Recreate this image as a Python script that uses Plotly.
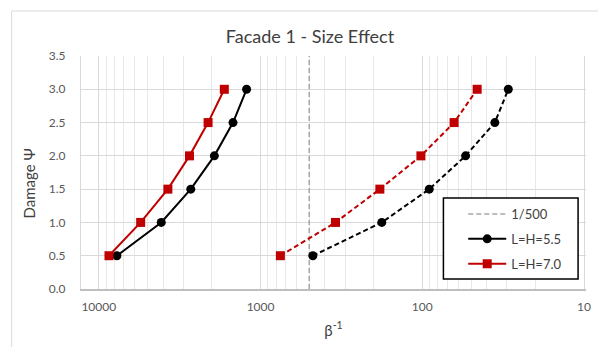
import plotly.graph_objects as go

# Damage levels (y) and inverse reliability values (x) for each curve
damage = [0.5, 1.0, 1.5, 2.0, 2.5, 3.0]
beta_inv_55_solid = [7730, 4110, 2700, 1930, 1480, 1220]
beta_inv_70_solid = [8650, 5510, 3740, 2750, 2110, 1675]
beta_inv_55_dashed = [475, 178, 90.6, 54, 35.6, 29.4]
beta_inv_70_dashed = [754, 344, 183, 102, 63.6, 45.8]
limit_value = 500
limit_y = [0, 3.5]

x_tick_vals = [10, 100, 1000, 10000]
x_tick_text = ["10", "100", "1000", "10000"]
x_minor_vals = [m * 10 ** e for e in (1, 2, 3) for m in range(2, 10)]

BLACK = "#000000"
RED = "#c00000"
GRAY = "#a6a6a6"
FONT = "Lato"

fig = go.Figure()

fig.add_trace(go.Scatter(
    x=[limit_value, limit_value], y=limit_y, mode="lines", name="1/500",
    line=dict(color=GRAY, width=1.5, dash="5px,3px"), legendgroup="a",
))
fig.add_trace(go.Scatter(
    x=beta_inv_55_solid, y=damage, mode="lines+markers", name="L=H=5.5",
    line=dict(color=BLACK, width=2), marker=dict(symbol="circle", size=9, color=BLACK),
    legendgroup="b",
))
fig.add_trace(go.Scatter(
    x=beta_inv_70_solid, y=damage, mode="lines+markers", name="L=H=7.0",
    line=dict(color=RED, width=2), marker=dict(symbol="square", size=9, color=RED),
    legendgroup="c",
))
fig.add_trace(go.Scatter(
    x=beta_inv_55_dashed, y=damage, mode="lines+markers", showlegend=False,
    line=dict(color=BLACK, width=2, dash="5px,3px"),
    marker=dict(symbol="circle", size=9, color=BLACK),
))
fig.add_trace(go.Scatter(
    x=beta_inv_70_dashed, y=damage, mode="lines+markers", showlegend=False,
    line=dict(color=RED, width=2, dash="5px,3px"),
    marker=dict(symbol="square", size=9, color=RED),
))

W, H = 598, 347
L, R, T, B = 81, 7, 56, 58
pw, ph = W - L - R, H - T - B


def px_x(p):
    return (p - L) / pw


def px_y(p):
    return (H - B - p) / ph


shapes = [
    # outer chart frame
    dict(type="rect", xref="paper", yref="paper",
         x0=px_x(11), x1=px_x(640), y0=px_y(400), y1=px_y(11),
         line=dict(color="#d9d9d9", width=1), fillcolor="rgba(0,0,0,0)", layer="below"),
    # legend box
    dict(type="rect", xref="paper", yref="paper",
         x0=px_x(447), x1=px_x(583), y0=px_y(279), y1=px_y(198),
         line=dict(color="#000000", width=1.5), fillcolor="#ffffff", layer="above"),
]

fig.update_layout(
    width=W, height=H,
    margin=dict(l=L, r=R, t=T, b=B),
    paper_bgcolor="#ffffff", plot_bgcolor="#ffffff",
    font=dict(family=FONT, color="#595959", size=12),
    title=dict(text="Facade 1 - Size Effect", x=(310) / W, xanchor="center",
               y=1 - 37 / H, yanchor="middle",
               font=dict(family=FONT, size=18, color="#404040")),
    showlegend=True,
    legend=dict(x=px_x(467), y=px_y(199), xanchor="left", yanchor="top",
                bgcolor="rgba(0,0,0,0)", borderwidth=0, itemwidth=38,
                traceorder="grouped", tracegroupgap=5,
                font=dict(family=FONT, size=13, color="#404040")),
    shapes=shapes,
    annotations=[
        dict(text="Damage Ψ", xref="paper", yref="paper", x=px_x(40), y=px_y(183),
             showarrow=False, textangle=-90, xanchor="right", yanchor="middle",
             font=dict(family=FONT, size=15, color="#404040")),
    ],
)

fig.update_xaxes(
    type="log", range=[4.110, 0.988],
    tickvals=x_tick_vals, ticktext=x_tick_text,
    showgrid=True, gridcolor="#d9d9d9", gridwidth=1,
    minor=dict(tickvals=x_minor_vals, showgrid=True, gridcolor="#e8e8e8", gridwidth=1),
    showline=True, linecolor="#bfbfbf", linewidth=1.5,
    zeroline=False, ticks="", ticklabelstandoff=6,
    tickfont=dict(family=FONT, size=12, color="#595959"),
    title=dict(text="β<sup>-1</sup>", standoff=12,
               font=dict(family=FONT, size=15, color="#404040")),
)
fig.update_yaxes(
    range=[0, 3.5], dtick=0.5, tickformat=".1f",
    showgrid=True, gridcolor="#d9d9d9", gridwidth=1,
    showline=True, linecolor="#d9d9d9", linewidth=1,
    zeroline=False, ticks="", ticklabelstandoff=12,
    tickfont=dict(family=FONT, size=12, color="#595959"),
)

fig.write_html("out.html")
